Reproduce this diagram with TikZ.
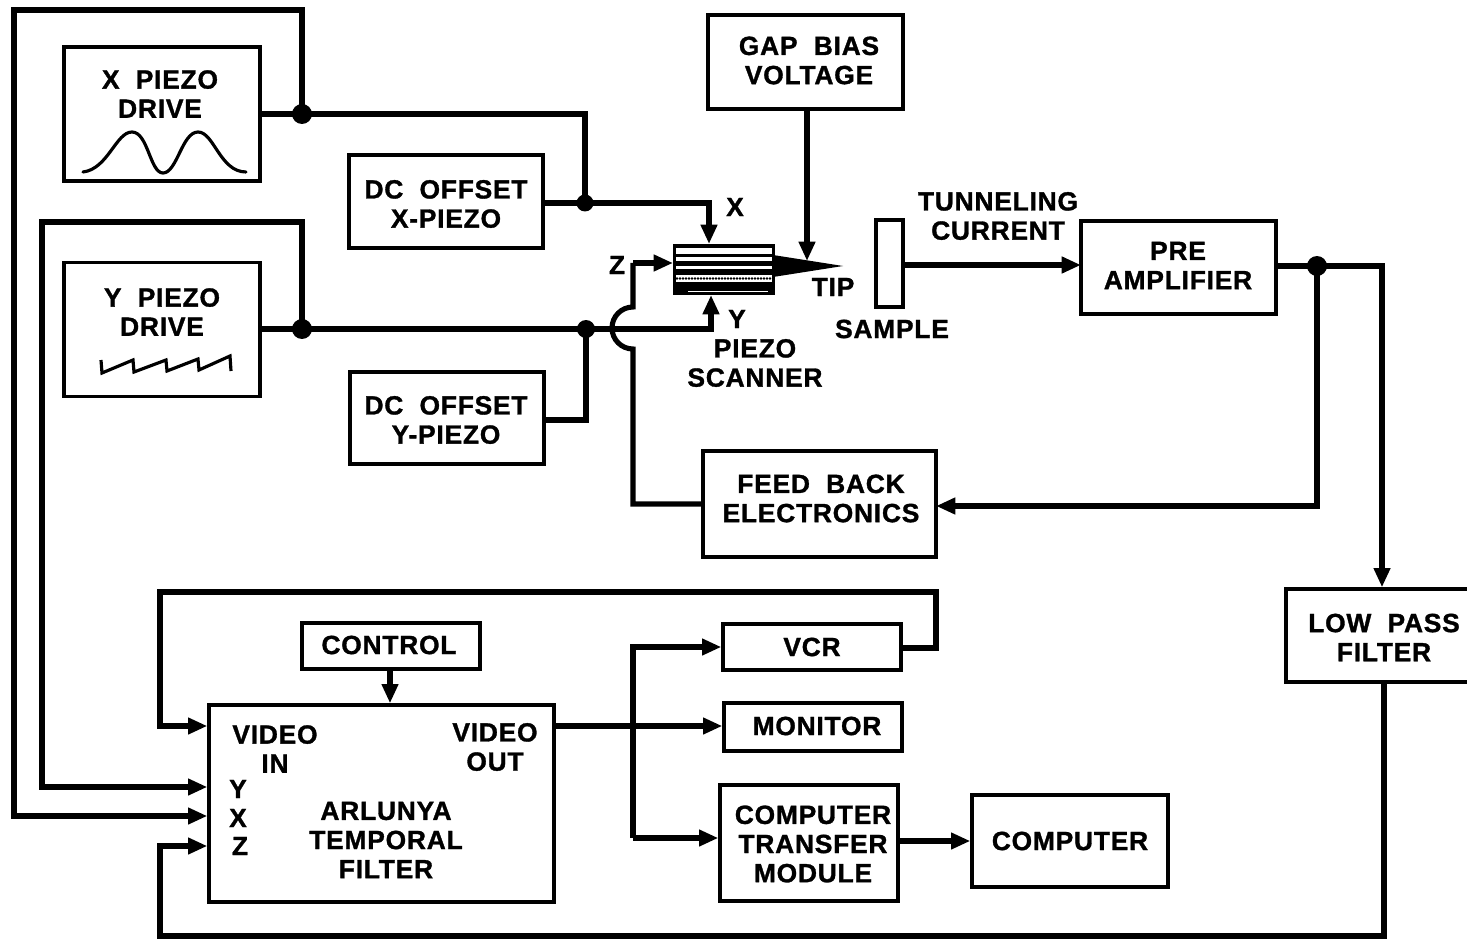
\documentclass[tikz,border=0pt]{standalone}
\usepackage{fontspec}
\setmainfont{Liberation Sans}[LetterSpace=3,BoldFeatures={FakeBold=1.2}]
\usetikzlibrary{arrows.meta,positioning,calc}
\tikzset{
  Dbox/.style 2 args={draw, line width=1.9pt, align=center, inner sep=0pt,
               minimum width=#1*0.02cm, minimum height=#2*0.02cm,
               font=\fontsize{15}{16.6}\selectfont\bfseries},
  Dtext/.style={align=center, inner sep=0pt,
               font=\fontsize{15}{16.6}\selectfont\bfseries},
  Narr/.style={-{Triangle[length=11pt,width=9pt]}, line width=2.9pt},
  Nline/.style={line width=2.9pt},
  Jdot/.style={circle, fill=black, inner sep=0pt, minimum size=0.4cm}
}
\begin{document}
\begin{tikzpicture}[x=0.02cm,y=-0.02cm,line join=miter]
  \useasboundingbox (0,0) rectangle (1467,939);

  \node[Dbox={196}{134}] (xdrive) at (162,114) {};
  \node[Dtext] (xdrivet) at (160,94) {X\ \ PIEZO\\DRIVE};
  \node[Dbox={196}{134}] (ydrive) at (162,329.5) {};
  \node[Dtext] (ydrivet) at (162,312) {Y\ \ PIEZO\\DRIVE};
  \node[Dbox={194}{93}] (dcx) at (446,201.5) {};
  \node[Dtext] (dcxt) at (446,204) {DC\ \ OFFSET\\X-PIEZO};
  \node[Dbox={194}{92}] (dcy) at (447,418) {};
  \node[Dtext] (dcyt) at (446,420) {DC\ \ OFFSET\\Y-PIEZO};
  \node[Dbox={195}{94}] (gap) at (805.5,62) {};
  \node[Dtext] (gapt) at (809,60.5) {GAP\ \ BIAS\\VOLTAGE};
  \node[Dbox={27}{87}] (sample) at (889.5,263.5) {};
  \node[Dbox={195}{93}] (pre) at (1178.5,267.5) {};
  \node[Dtext] (pret) at (1178,265.5) {PRE\\AMPLIFIER};
  \node[Dbox={233}{106}] (feed) at (819.5,504) {};
  \node[Dtext] (feedt) at (821,498.5) {FEED\ \ BACK\\ELECTRONICS};
  \node[Dbox={196}{93}] (low) at (1384,635.5) {};
  \node[Dtext] (lowt) at (1384,637.5) {LOW\ \ PASS\\FILTER};
  \node[Dbox={178}{46}] (control) at (391,646) {};
  \node[Dtext] (controlt) at (389,645) {CONTROL};
  \node[Dbox={178}{46}] (vcr) at (812,647) {VCR};
  \node[Dbox={178}{48}] (monitor) at (813,727) {};
  \node[Dtext] (monitort) at (817,726) {MONITOR};
  \node[Dbox={345}{197}] (arl) at (381.5,803.5) {};
  \node[Dbox={178}{116}] (ctm) at (809,843) {};
  \node[Dtext] (ctmt) at (813,844) {COMPUTER\\TRANSFER\\MODULE};
  \node[Dbox={196}{92}] (comp) at (1070,841) {COMPUTER};

  % labels
  \node[Dtext] (lx) at (735,207) {X};
  \node[Dtext] (lz) at (617,265) {Z};
  \node[Dtext] (ly) at (737,319) {Y};
  \node[Dtext] (ltip) at (833,287) {TIP};
  \node[Dtext] (lscan) at (755,363) {PIEZO\\SCANNER};
  \node[Dtext] (lsample) at (892,329) {SAMPLE};
  \node[Dtext] (lcur) at (998,216) {TUNNELING\\CURRENT};
  \node[Dtext] (lvin) at (275,749) {VIDEO\\IN};
  \node[Dtext] (lvout) at (495,747) {VIDEO\\OUT};
  \node[Dtext] (lay) at (238,789) {Y};
  \node[Dtext] (lax) at (238,818) {X};
  \node[Dtext] (laz) at (240,846) {Z};
  \node[Dtext] (larl) at (386,840) {ARLUNYA\\TEMPORAL\\FILTER};

  % piezo scanner
  \node[fill=black, minimum width=2.04cm, minimum height=1.02cm, inner sep=0pt] (scan) at (724,269.5) {};
  \fill[white] (676,248) rectangle (772,254);
  \fill[white] (676,257) rectangle (772,261.5);
  \fill[white] (676,266) rectangle (772,269);
  \fill[white] (676,275) rectangle (772,282);
  \foreach \i in {0,...,31}
    \fill[black] (677+\i*3,278.5) circle (0.75pt);
  \draw[white, line width=0.4pt] (688,291) -- (768,291);
  \fill[black] (773,255) -- (843,266) -- (773,277) -- cycle;

  % waveforms
  \draw[line width=1.8pt, line cap=round] (83,172) .. controls (108,169) and (116,132) .. (132,132)
    .. controls (148,132) and (150,173) .. (163,173)
    .. controls (177,173) and (182,132) .. (198,132)
    .. controls (214,132) and (220,172) .. (246,172);
  \draw[line width=1.8pt] (101,360) -- (102,373) -- (133,360) -- (134,372) -- (166,360) -- (167,371)
    -- (198,359) -- (199,370) -- (230,356) -- (231,371);

  % junctions
  \node[Jdot] (jx) at (302,114) {};
  \node[Jdot, minimum size=0.34cm] (jdcx) at (585,203) {};
  \node[Jdot] (jy) at (302,329) {};
  \node[Jdot, minimum size=0.36cm] (jdcy) at (586,329) {};
  \node[Jdot] (jpre) at (1317,266) {};
  \coordinate (jvid) at (633,726);
  \coordinate (bumpb) at (633,349);

  % drives to scanner
  \draw[Nline] (xdrive.east) -- (jx.center) -- (585,114) -- (jdcx.center);
  \draw[Nline] (dcx.east |- jdcx) -- (jdcx.center);
  \draw[Narr] (jdcx.center) -- (709,203) -- (709,244);
  \draw[Nline] (ydrive.east |- jy) -- (jy.center) -- (jdcy.center);
  \draw[Narr] (jdcy.center) -- (711,329) -- (711,295);
  \draw[Nline] (dcy.east |- 0,420) -- (586,420) -- (jdcy.center);

  % z feedback
  \draw[Nline] (feed.west) -- (633,504) -- (bumpb) arc[start angle=90, end angle=270, radius=21]
    -- (633,263);
  \draw[Narr] (633,263) -- (673,263);
  \draw[Narr] (pre.east |- jpre) -- (1382,266) -- (low.north -| 1382,0);
  \draw[Narr] (jpre.center) -- (1317,506) -- (936,506);
  \draw[Narr] (gap.south -| 807,0) -- (807,261);
  \draw[Narr] (sample.east |- 0,265) -- (1081,265);

  % lines to filter
  \draw[Narr] (jx.center) -- (302,10) -- (14,10) -- (14,816) -- (arl.west |- 0,816);
  \draw[Narr] (jy.center) -- (302,222) -- (42,222) -- (42,787) -- (arl.west |- 0,787);
  \draw[Narr] (vcr.east |- 0,648) -- (936,648) -- (936,592) -- (160,592) -- (160,726) -- (arl.west |- 0,726);
  \draw[Narr] (low.south -| 1384,0) -- (1384,936) -- (160,936) -- (160,846) -- (arl.west |- 0,846);
  \draw[Narr] (control.south -| 390,0) -- (arl.north -| 390,0);

  % video out
  \draw[Narr] (arl.east |- jvid) -- (monitor.west |- jvid);
  \draw[Narr] (633,838) -- (633,647) -- (vcr.west |- 0,647);
  \draw[Narr] (633,838) -- (ctm.west |- 0,838);
  \draw[Narr] (ctm.east |- 0,841) -- (comp.west |- 0,841);
\end{tikzpicture}
\end{document}
